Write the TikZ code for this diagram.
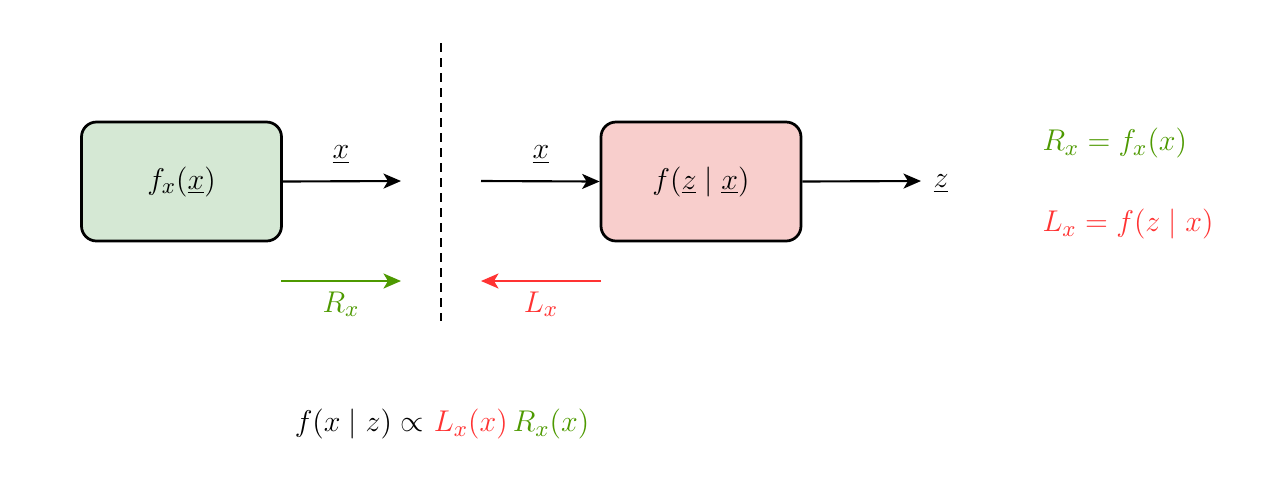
\documentclass[tikz,border=0pt]{standalone}
\usetikzlibrary{arrows.meta}
\definecolor{gfill}{HTML}{D5E8D4}
\definecolor{rfill}{HTML}{F8CECC}
\definecolor{gtext}{HTML}{4D9900}
\definecolor{rtext}{HTML}{FF3333}
\begin{document}
\begin{tikzpicture}[x=0.4pt,y=-0.4pt,
  blk/.style={draw=black,line width=1.1pt,rounded corners=6pt,minimum width=80pt,minimum height=47.6pt,inner sep=0pt},
  conn/.style={line width=0.85pt,-{Stealth[length=7pt,width=6pt,inset=1.8pt]}},
  lbl/.style={inner sep=0pt},
  every node/.style={font=\fontsize{12.5pt}{15pt}\selectfont}]
\useasboundingbox (0,0) rectangle (1282,483);
\node[blk,fill=gfill] (gb) at (181.5,181.5) {$f_x(\underline{x})$};
\node[blk,fill=rfill] (rb) at (701,181.5) {$f(\underline{z}\mid\underline{x})$};
\coordinate (a1e) at (401,181);
\coordinate (a2s) at (481,181);
\node[lbl,anchor=west] (zl) at (933,184) {$\underline{z}$};
\coordinate (a3e) at (921,181);
\draw[conn] (gb.east) -- (a1e);
\draw[conn] (a2s) -- (rb.west);
\draw[conn] (rb.east) -- (a3e);
\node[lbl] (x1) at (341,155) {$\underline{x}$};
\node[lbl] (x2) at (541,155) {$\underline{x}$};
\coordinate (d1) at (441,43);
\coordinate (d2) at (441,321);
\draw[line width=1.1pt,dash pattern=on 3.4pt off 2.6pt] (d1) -- (d2);
\coordinate (g1) at (281,281);
\coordinate (g2) at (401,281);
\draw[conn,gtext] (g1) -- (g2);
\coordinate (r1) at (601,281);
\coordinate (r2) at (481,281);
\draw[conn,rtext] (r1) -- (r2);
\node[lbl,text=gtext] (rx) at (341,304) {$R_x$};
\node[lbl,text=rtext] (lx) at (541,304) {$L_x$};
\node[lbl,anchor=west,text=gtext] (req) at (1042,143) {$R_x = f_x(x)$};
\node[lbl,anchor=west,text=rtext] (leq) at (1042,224) {$L_x = f(z\mid x)$};
\node[lbl] (post) at (442,424) {$f(x\mid z)\propto$ \textcolor{rtext}{$L_x(x)$}\,\textcolor{gtext}{$R_x(x)$}};
\end{tikzpicture}
\end{document}
